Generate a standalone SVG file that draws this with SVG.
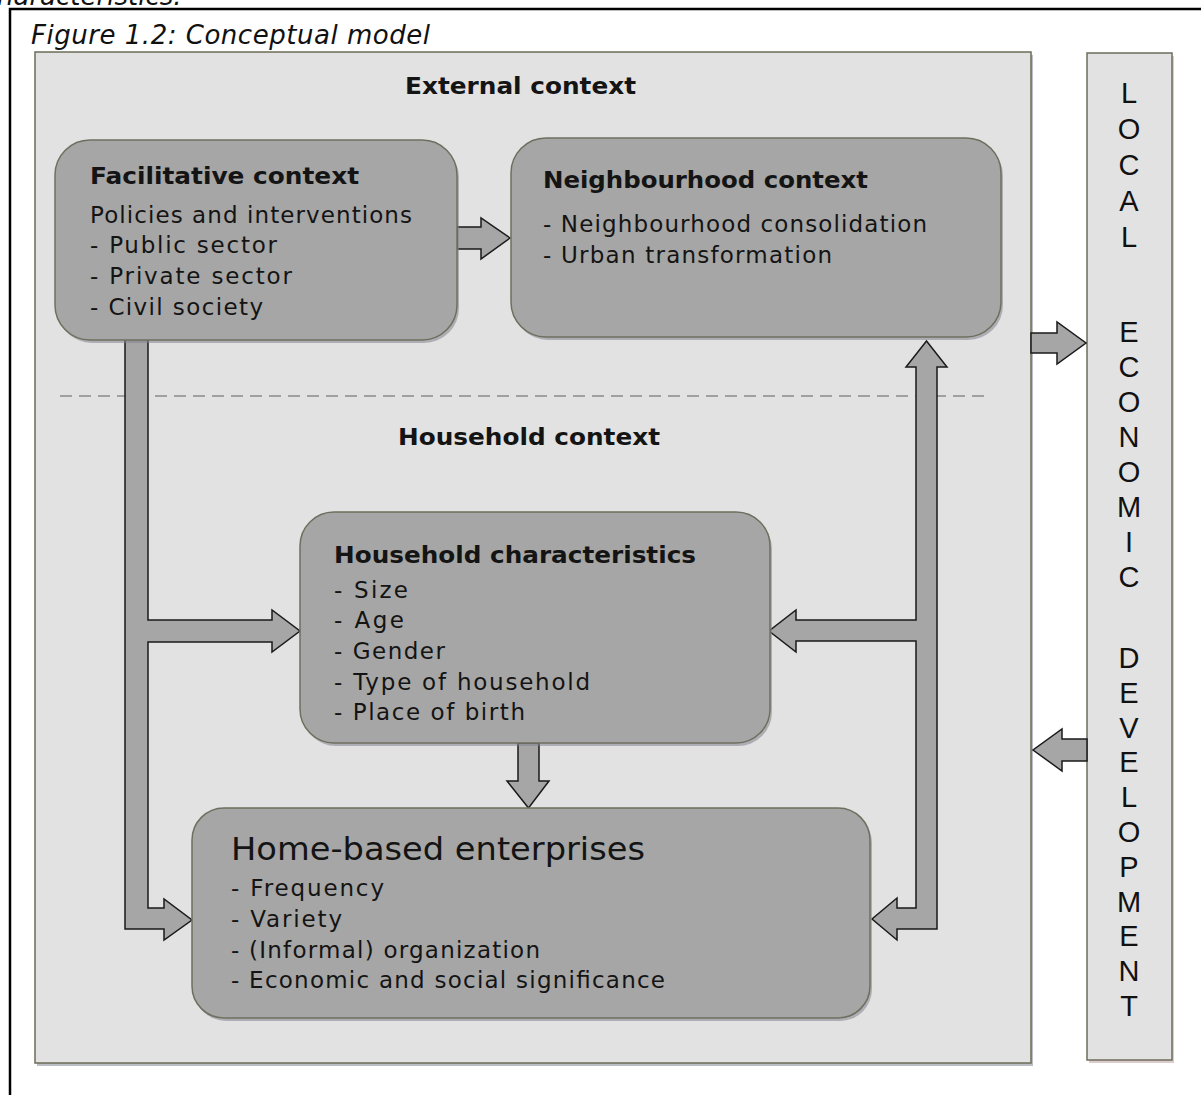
<svg xmlns="http://www.w3.org/2000/svg" width="1201" height="1095" viewBox="0 0 1201 1095">
<style>
.t{font-family:"DejaVu Sans","Verdana",sans-serif;fill:#141414;font-size:23px}
.b{font-weight:bold;font-size:22.5px}
.box{fill:#a6a6a6;stroke:#6f6f5f;stroke-width:1.5}
.shd{fill:#80848c;opacity:.55}
.arr{fill:#a6a6a6;stroke:#1a1a1a;stroke-width:1.5;stroke-linejoin:miter}
.led{font-family:"Liberation Sans",Arial,sans-serif;font-size:29px;fill:#111;text-anchor:middle}
.it{font-family:"DejaVu Sans","Verdana",sans-serif;font-style:italic;font-size:26px;fill:#111}
</style>
<rect x="0" y="0" width="1201" height="1095" fill="#ffffff"/>
<text class="it" x="-3" y="5">haracteristics.</text>
<path d="M10 1095 V9 H1201" fill="none" stroke="#000" stroke-width="2.5"/>
<text class="it" x="31" y="44" textLength="399" lengthAdjust="spacing">Figure 1.2: Conceptual model</text>

<g id="external-context">
<rect x="37" y="55" width="996" height="1011" fill="#8e939b" opacity=".6"/>
<rect x="35" y="52" width="996" height="1011" fill="#e2e2e2" stroke="#6c6c58" stroke-width="1.5"/>
<text class="t b" x="405" y="94" textLength="231" lengthAdjust="spacingAndGlyphs">External context</text>
<line x1="60" y1="396" x2="990" y2="396" stroke="#8a8a8a" stroke-width="1.5" stroke-dasharray="12 7"/>
<text class="t b" x="398" y="445" textLength="262" lengthAdjust="spacingAndGlyphs">Household context</text>
</g>

<g id="led">
<rect x="1089" y="56" width="85" height="1007" fill="#b99a98" opacity=".5"/>
<rect x="1087" y="53" width="85" height="1007" fill="#e2e2e2" stroke="#6c6c5c" stroke-width="1.5"/>
<text class="led" x="1129" y="103">L</text>
<text class="led" x="1129" y="139">O</text>
<text class="led" x="1129" y="175">C</text>
<text class="led" x="1129" y="211">A</text>
<text class="led" x="1129" y="247">L</text>
<text class="led" x="1129" y="342">E</text>
<text class="led" x="1129" y="377">C</text>
<text class="led" x="1129" y="412">O</text>
<text class="led" x="1129" y="447">N</text>
<text class="led" x="1129" y="482">O</text>
<text class="led" x="1129" y="517">M</text>
<text class="led" x="1129" y="552">I</text>
<text class="led" x="1129" y="587">C</text>
<text class="led" x="1129" y="668">D</text>
<text class="led" x="1129" y="703">E</text>
<text class="led" x="1129" y="738">V</text>
<text class="led" x="1129" y="772">E</text>
<text class="led" x="1129" y="807">L</text>
<text class="led" x="1129" y="842">O</text>
<text class="led" x="1129" y="877">P</text>
<text class="led" x="1129" y="912">M</text>
<text class="led" x="1129" y="946">E</text>
<text class="led" x="1129" y="981">N</text>
<text class="led" x="1129" y="1016">T</text>
</g>

<g id="connectors">
<polygon class="arr" points="125,338 125,929 164,929 164,940 192,920 164,899 164,908 148,908 148,642 272,642 272,652 300,631 272,610 272,620 148,620 148,338"/>
<polygon class="arr" points="937,367 947,367 926.5,341 906,367 916,367 916,620 796,620 796,610 769,631 796,652 796,641 916,641 916,908 897,908 897,898 872,919 897,940 897,929 937,929"/>
<polygon class="arr" points="457,227 481,227 481,218 510,238 481,259 481,249 457,249"/>
<polygon class="arr" points="518,743 539,743 539,781 549,781 528.5,808 507,781 518,781"/>
<polygon class="arr" points="1031,333 1057,333 1057,322 1086,343 1057,364 1057,353 1031,353"/>
<polygon class="arr" points="1087,739 1062,739 1062,729 1033,750 1062,771 1062,761 1087,761"/>
</g>

<g id="facilitative">
<rect class="shd" x="57" y="143" width="402" height="200" rx="35"/>
<rect class="box" x="55" y="140" width="402" height="200" rx="35"/>
<text class="t b" x="90" y="184" textLength="269" lengthAdjust="spacingAndGlyphs">Facilitative context</text>
<text class="t" x="90" y="223" textLength="322" lengthAdjust="spacing">Policies and interventions</text>
<text class="t" x="90" y="253" textLength="187" lengthAdjust="spacing">- Public sector</text>
<text class="t" x="90" y="284" textLength="202" lengthAdjust="spacing">- Private sector</text>
<text class="t" x="90" y="315" textLength="173" lengthAdjust="spacing">- Civil society</text>
</g>

<g id="neighbourhood">
<rect class="shd" x="513" y="141" width="490" height="199" rx="35"/>
<rect class="box" x="511" y="138" width="490" height="199" rx="35"/>
<text class="t b" x="543" y="188" textLength="325" lengthAdjust="spacingAndGlyphs">Neighbourhood context</text>
<text class="t" x="543" y="232" textLength="384" lengthAdjust="spacing">- Neighbourhood consolidation</text>
<text class="t" x="543" y="263" textLength="289" lengthAdjust="spacing">- Urban transformation</text>
</g>

<g id="household">
<rect class="shd" x="302" y="515" width="470" height="231" rx="34"/>
<rect class="box" x="300" y="512" width="470" height="231" rx="34"/>
<text class="t b" x="334" y="563" textLength="362" lengthAdjust="spacingAndGlyphs">Household characteristics</text>
<text class="t" x="334" y="598" textLength="74" lengthAdjust="spacing">- Size</text>
<text class="t" x="334" y="628" textLength="70" lengthAdjust="spacing">- Age</text>
<text class="t" x="334" y="659" textLength="111" lengthAdjust="spacing">- Gender</text>
<text class="t" x="334" y="690" textLength="256" lengthAdjust="spacing">- Type of household</text>
<text class="t" x="334" y="720" textLength="191" lengthAdjust="spacing">- Place of birth</text>
</g>

<g id="hbe">
<rect class="shd" x="194" y="811" width="678" height="210" rx="32"/>
<rect class="box" x="192" y="808" width="678" height="210" rx="32"/>
<text class="t" x="231" y="860" style="font-size:32px" textLength="414" lengthAdjust="spacingAndGlyphs">Home-based enterprises</text>
<text class="t" x="231" y="896" textLength="153" lengthAdjust="spacing">- Frequency</text>
<text class="t" x="231" y="927" textLength="111" lengthAdjust="spacing">- Variety</text>
<text class="t" x="231" y="958" textLength="309" lengthAdjust="spacing">- (Informal) organization</text>
<text class="t" x="231" y="988" textLength="434" lengthAdjust="spacing">- Economic and social significance</text>
</g>
</svg>
